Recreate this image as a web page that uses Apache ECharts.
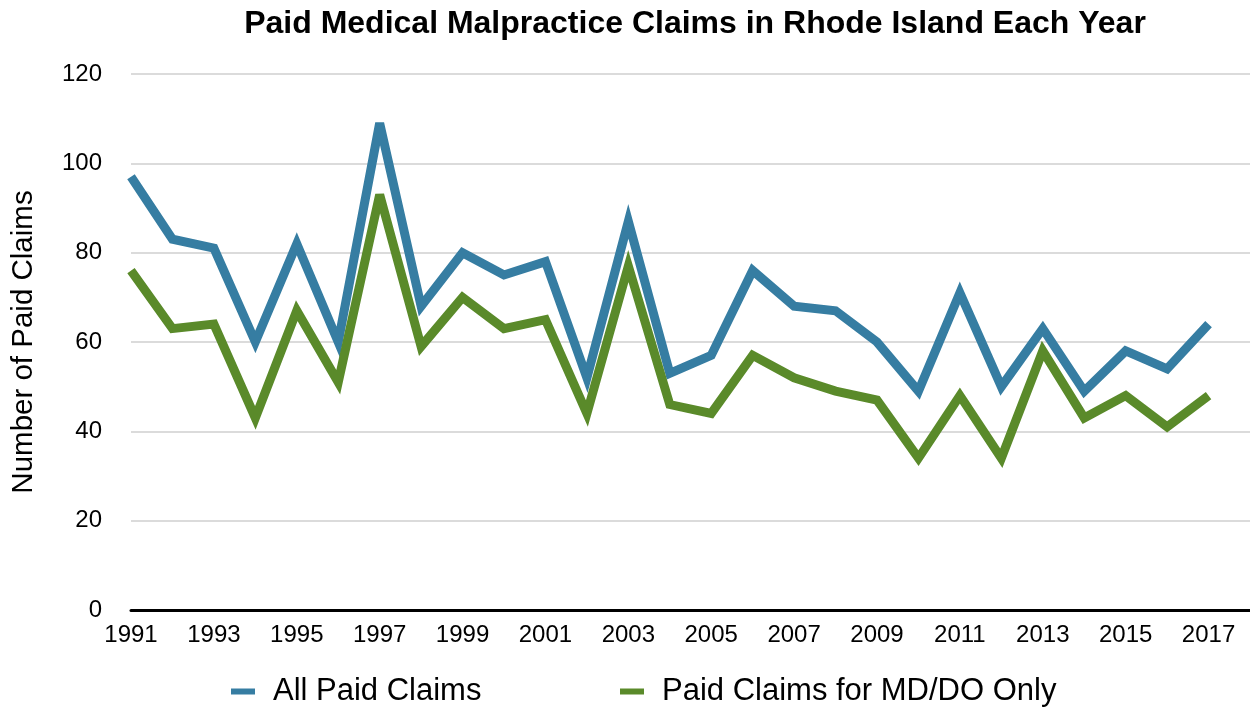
<!DOCTYPE html>
<html>
<head>
<meta charset="utf-8">
<script src="https://cdn.jsdelivr.net/npm/echarts@6/dist/echarts.min.js"></script>
<style>
html,body{margin:0;padding:0;background:#fff;}
#chart{width:1250px;height:708px;}
</style>
</head>
<body>
<div id="chart"></div>
<script>
const years = ['1991','1992','1993','1994','1995','1996','1997','1998','1999','2000','2001','2002','2003','2004','2005','2006','2007','2008','2009','2010','2011','2012','2013','2014','2015','2016','2017','2018'];
const allPaidClaims = [97, 83, 81, 60, 82, 60, 109, 68, 80, 75, 78, 52, 87, 53, 57, 76, 68, 67, 60, 49, 71, 50, 63, 49, 58, 54, 64];
const mdDoClaims = [76, 63, 64, 43, 67, 51, 93, 59, 70, 63, 65, 44, 77, 46, 44, 57, 52, 49, 47, 34, 48, 34, 58, 43, 48, 41, 48];
const yTicks = { min: 0, max: 120, interval: 20 };
const seriesNames = ['All Paid Claims', 'Paid Claims for MD/DO Only'];
const colors = ['#367DA2', '#5A8A2A'];

const FONT = '"Helvetica Neue", Helvetica, "Liberation Sans", Arial, sans-serif';
const chart = echarts.init(document.getElementById('chart'));
chart.setOption({
  animation: false,
  color: colors,
  title: {
    text: 'Paid Medical Malpractice Claims in Rhode Island Each Year',
    left: 690, top: 3, textAlign: 'center',
    textStyle: { fontFamily: FONT, fontSize: 32, fontWeight: 'bold', color: '#000' }
  },
  legend: [
    { data: [seriesNames[0]], left: 226, top: 671, icon: 'rect', itemWidth: 24, itemHeight: 6,
      textStyle: { fontFamily: FONT, fontSize: 31, color: '#000', padding: [0, 0, 0, 13] } },
    { data: [seriesNames[1]], left: 615, top: 671, icon: 'rect', itemWidth: 24, itemHeight: 6,
      textStyle: { fontFamily: FONT, fontSize: 31, color: '#000', padding: [0, 0, 0, 13] } }
  ],
  grid: { left: 131, right: 0, top: 74, bottom: 98, containLabel: false, outerBoundsMode: 'none' },
  xAxis: {
    type: 'category', data: years, boundaryGap: false,
    axisLine: { lineStyle: { color: '#000', width: 3 } },
    axisTick: { show: false },
    axisLabel: { interval: 1, fontFamily: FONT, fontSize: 24, color: '#000', margin: 13 },
    splitLine: { show: false }
  },
  yAxis: {
    type: 'value', min: yTicks.min, max: yTicks.max, interval: yTicks.interval,
    name: 'Number of Paid Claims', nameLocation: 'middle', nameGap: 92, nameRotate: 90,
    nameTextStyle: { fontFamily: FONT, fontSize: 29.5, color: '#000' },
    axisLine: { show: false }, axisTick: { show: false },
    axisLabel: { fontFamily: FONT, fontSize: 24, color: '#000', margin: 29 },
    splitLine: { lineStyle: { color: '#cfcfcf', width: 1.5 } }
  },
  series: [
    { name: seriesNames[0], type: 'line', data: allPaidClaims, symbol: 'none',
      lineStyle: { width: 9, color: colors[0], join: 'miter', miterLimit: 4, cap: 'butt' } },
    { name: seriesNames[1], type: 'line', data: mdDoClaims, symbol: 'none',
      lineStyle: { width: 9, color: colors[1], join: 'miter', miterLimit: 4, cap: 'butt' } }
  ]
});
</script>
</body>
</html>
